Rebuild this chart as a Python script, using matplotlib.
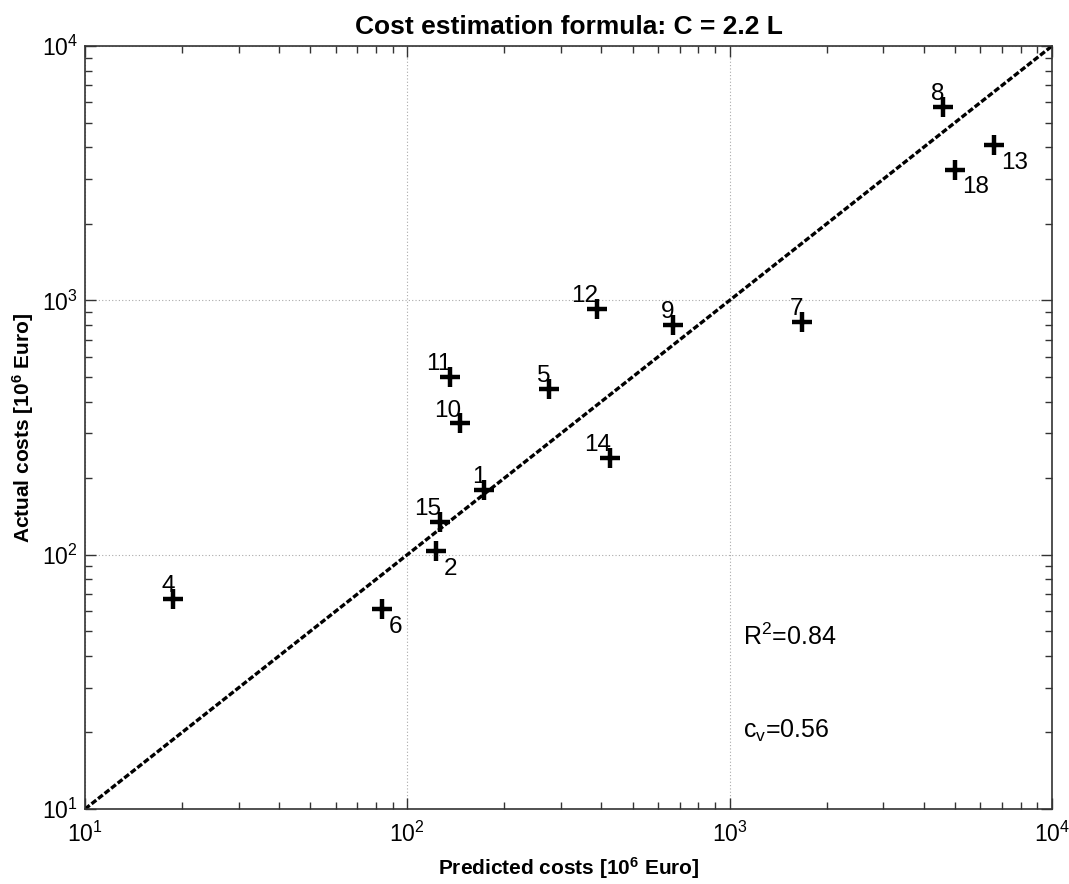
import matplotlib
matplotlib.use("Agg")
import matplotlib.pyplot as plt
from matplotlib.ticker import LogLocator, NullFormatter

plt.rcParams['font.family'] = ['Liberation Sans', 'DejaVu Sans']
plt.rcParams['mathtext.fontset'] = 'custom'
plt.rcParams['mathtext.rm'] = 'Liberation Sans'
plt.rcParams['mathtext.it'] = 'Liberation Sans'
plt.rcParams['mathtext.bf'] = 'Liberation Sans:bold'

labels = ['1', '2', '4', '5', '6', '7', '8', '9', '10', '11', '12', '13', '14', '15', '18']
predicted = [173, 123, 18.8, 275, 83.3, 1677, 4590, 666, 146, 136, 387, 6610, 424, 126, 5000]
actual = [180, 103, 66.8, 450, 61, 824, 5750, 802, 328, 501, 927, 4080, 241, 134, 3260]
below_right = ['2', '6', '13', '18']

fig = plt.figure(figsize=(10.69, 8.84), dpi=100)
left, right, bottom, top = 85 / 1069, 1052 / 1069, 1 - 809 / 884, 1 - 46 / 884
ax = fig.add_axes([left, bottom, right - left, top - bottom])
ax.set_xscale('log')
ax.set_yscale('log')
ax.set_xlim(10, 1e4)
ax.set_ylim(10, 1e4)

ax.plot([10, 1e4], [10, 1e4], color='black', lw=2.4, linestyle=(0, (1.8, 0.7)), zorder=2)
ax.plot(predicted, actual, linestyle='none', marker='+', color='black',
        markersize=15, markeredgewidth=3.2, zorder=3)

for lab, x, y in zip(labels, predicted, actual):
    if lab in below_right:
        ax.annotate(lab, (x, y), xytext=(5, -17), textcoords='offset points',
                    ha='left', va='baseline', fontsize=17.5)
    else:
        ax.annotate(lab, (x, y), xytext=(1, 5), textcoords='offset points',
                    ha='right', va='baseline', fontsize=17.5)

ax.text(1100, 44, r'R$^2$=0.84', fontsize=18, ha='left', va='baseline')
ax.text(1100, 19, r'c$_\mathregular{v}$=0.56', fontsize=18, ha='left', va='baseline')

ax.xaxis.set_major_locator(LogLocator(base=10, numticks=10))
ax.yaxis.set_major_locator(LogLocator(base=10, numticks=10))
ax.xaxis.set_minor_locator(LogLocator(base=10, subs=range(2, 10), numticks=20))
ax.yaxis.set_minor_locator(LogLocator(base=10, subs=range(2, 10), numticks=20))
ax.xaxis.set_minor_formatter(NullFormatter())
ax.yaxis.set_minor_formatter(NullFormatter())

ax.tick_params(which='both', direction='in', top=True, right=True, colors='#333333',
               labelcolor='black', labelsize=16.5)
ax.tick_params(which='major', length=8, width=1)
ax.tick_params(which='minor', length=5, width=1)
ax.tick_params(axis='x', which='both', pad=9)
ax.tick_params(axis='y', which='both', pad=5)
for s in ax.spines.values():
    s.set_color('#333333')
    s.set_linewidth(1.2)

ax.grid(True, which='major', linestyle=(0, (1, 2)), color='#aaaaaa', linewidth=0.8)

ax.set_title('Cost estimation formula: C = 2.2 L', fontsize=19, fontweight='bold', pad=9)
ax.set_xlabel(r'Predicted costs [10$^\mathbf{6}$ Euro]', fontsize=15, fontweight='bold', labelpad=6)
ax.set_ylabel(r'Actual costs [10$^\mathbf{6}$ Euro]', fontsize=15, fontweight='bold', labelpad=4)

fig.savefig('out.png', dpi=100)
